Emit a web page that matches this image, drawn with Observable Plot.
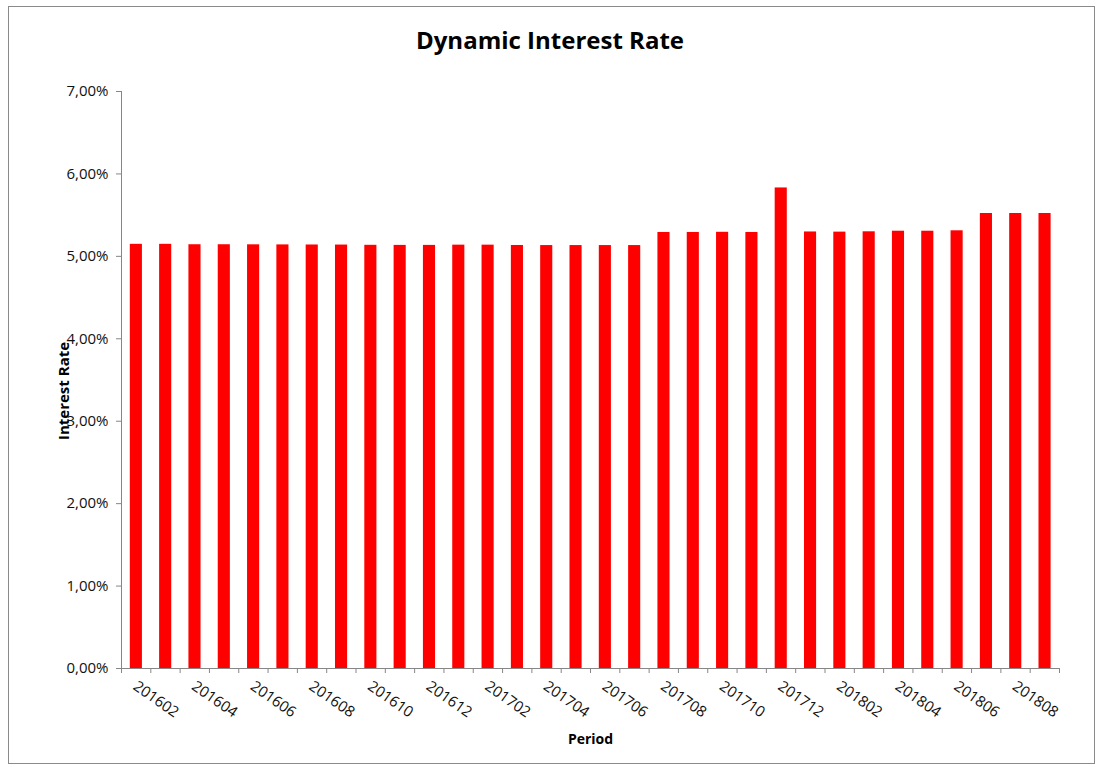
<!DOCTYPE html>
<html>
<head>
<meta charset="utf-8">
<script src="https://cdn.jsdelivr.net/npm/d3@7"></script>
<script src="https://cdn.jsdelivr.net/npm/@observablehq/plot@0.6"></script>
<style>
  body { margin: 0; background: #fff; }
  #wrap { position: relative; width: 1100px; height: 767px; font-family: "Open Sans", sans-serif; background: #fff; }
  #frame { position: absolute; left: 8px; top: 6px; width: 1087px; height: 758px; border: 1px solid #8a8a8a; box-sizing: border-box; pointer-events: none; }
  #title { height: 60px; padding-top: 10px; line-height: 60px; text-align: center; font-weight: bold; font-size: 24px; color: #000; }
  svg { display: block; }
</style>
</head>
<body>
<div id="wrap">
  <div id="frame"></div>
  <div id="title">Dynamic Interest Rate</div>
  <div id="chart"></div>
</div>
<script>
const periods = [
  "201602","201603","201604","201605","201606","201607","201608","201609","201610","201611","201612",
  "201701","201702","201703","201704","201705","201706","201707","201708","201709","201710","201711","201712",
  "201801","201802","201803","201804","201805","201806","201807","201808","201809"
];
const ratesPct = [
  5.146, 5.146, 5.141, 5.141, 5.140, 5.139, 5.138, 5.137, 5.134, 5.133, 5.133,
  5.136, 5.136, 5.132, 5.131, 5.131, 5.131, 5.131, 5.290, 5.290, 5.292, 5.290, 5.830,
  5.296, 5.294, 5.298, 5.305, 5.305, 5.310, 5.520, 5.520, 5.520
];
const xTickLabels = ["201602","201604","201606","201608","201610","201612","201702","201704","201706","201708","201710","201712","201802","201804","201806","201808"];
const yTicks = [0, 0.01, 0.02, 0.03, 0.04, 0.05, 0.06, 0.07];

const data = periods.map((p, i) => ({period: p, i, rate: ratesPct[i] / 100}));
const boundaries = d3.range(0, periods.length + 1);
const fmt = d => (d * 100).toFixed(2).replace(".", ",") + "%";
const axisColor = "#868686";

const chart = Plot.plot({
  width: 1100,
  height: 697,
  marginTop: 21,
  marginBottom: 99,
  marginLeft: 121,
  marginRight: 41,
  style: {fontFamily: "Open Sans, sans-serif", fontSize: "15px", color: "#111", background: "#fff"},
  x: {domain: [0, periods.length], axis: null},
  y: {domain: [0, 0.07], axis: null},
  marks: [
    Plot.rectY(data, {x1: "i", x2: d => d.i + 1, y: "rate", insetLeft: 8.8, insetRight: 8.4, fill: "#ff0000"}),
    Plot.axisY({ticks: yTicks, tickFormat: fmt, tickSize: 5, tickPadding: 8, stroke: axisColor, fill: "#111", fontSize: 15, label: null}),
    Plot.axisX({ticks: boundaries, tickFormat: () => "", tickSize: 5, stroke: axisColor, label: null}),
    Plot.ruleX([0], {stroke: axisColor}),
    Plot.ruleY([0], {stroke: axisColor}),
    Plot.text(xTickLabels, {
      x: d => periods.indexOf(d) + 0.5, text: d => d, frameAnchor: "bottom",
      rotate: 35, textAnchor: "start", dx: -4, dy: 20, fontSize: 15, fill: "#111"
    }),
    Plot.text(["Interest Rate"], {text: d => d, frameAnchor: "left", rotate: -90, dx: -57, dy: 60, fontSize: 15, fontWeight: "bold", fill: "#000"}),
    Plot.text(["Period"], {text: d => d, frameAnchor: "bottom", dy: 75, fontSize: 14, fontWeight: "bold", fill: "#000"})
  ]
});
document.getElementById("chart").appendChild(chart);
</script>
</body>
</html>
